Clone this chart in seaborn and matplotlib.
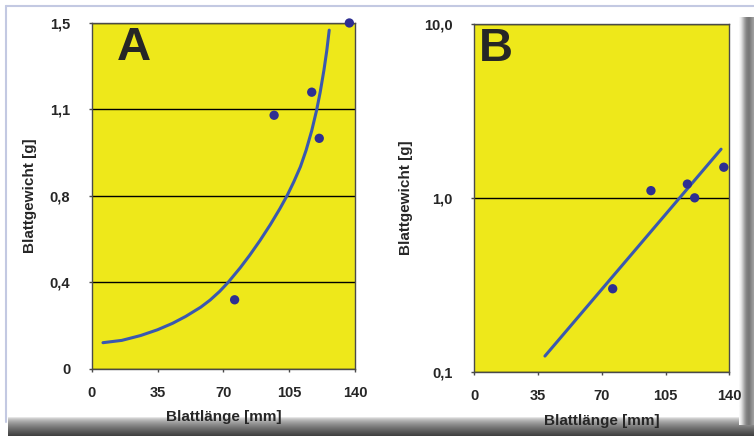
import numpy as np
import pandas as pd
import seaborn as sns
import matplotlib.pyplot as plt

# Messwerte (Blattlänge in mm, Blattgewicht in g)
laenge = [76, 97, 117, 121, 137]
gewicht = [0.30, 1.10, 1.20, 1.00, 1.50]

# Kurve in A
kurve_x = [6, 16, 26, 35, 43, 50, 58, 63, 68, 72.5, 79, 84, 89.5, 95, 100, 104,
           107.5, 111, 114, 117, 119.6, 121.5, 123.5, 125, 126.3]
kurve_y = [0.114, 0.124, 0.145, 0.17, 0.198, 0.228, 0.268, 0.299, 0.336, 0.375,
           0.439, 0.493, 0.557, 0.626, 0.694, 0.753, 0.812, 0.877, 0.948, 1.033, 1.122,
           1.200, 1.296, 1.38, 1.469]

# Gerade in B (log)
gerade_x = [38.8, 135.5]
gerade_y = [0.123, 1.905]

x_ticks = [0, 35, 70, 105, 140]
a_ticks = [0, 0.375, 0.75, 1.125, 1.5]
a_labels = ["0", "0,4", "0,8", "1,1", "1,5"]
b_ticks = [0.1, 1.0, 10.0]
b_labels = ["0,1", "1,0", "10,0"]

punkte = pd.DataFrame({"x": laenge, "y": gewicht})
kurve = pd.DataFrame({"x": kurve_x, "y": kurve_y})
gerade = pd.DataFrame({"x": gerade_x, "y": gerade_y})

sns.set_style("ticks")
plt.rcParams["font.family"] = ["Liberation Sans", "DejaVu Sans"]
plt.rcParams["font.weight"] = "bold"

gelb = "#eee81a"
punkt_farbe = "#2e2f92"
linien_farbe = "#3a58b0"

fig = plt.figure(figsize=(7.54, 4.36), dpi=100)
fig.patch.set_facecolor("white")

# Rahmen und Schatten
bg = fig.add_axes([0, 0, 1, 1], zorder=-5)
bg.set_xlim(0, 754)
bg.set_ylim(436, 0)
bg.axis("off")
grad_v = np.linspace(0, 1, 50)[:, None] ** 0.6
bg.imshow(0.95 - 0.7 * grad_v, cmap="gray", vmin=0, vmax=1, aspect="auto",
          extent=[8, 754, 436, 417], zorder=1)
grad_h = np.array([[0.97, 0.88, 0.75, 0.62, 0.52, 0.47, 0.48, 0.55, 0.62]])
bg.imshow(grad_h, cmap="gray", vmin=0, vmax=1, aspect="auto",
          extent=[739, 754, 425, 18], zorder=1, interpolation="bilinear")
bg.plot([6, 754], [6, 6], color="#c3c9e2", lw=1.5, zorder=2)
bg.plot([6, 6], [6, 422], color="#c3c9e2", lw=1.5, zorder=2)

ax_a = fig.add_axes([0.1216, 0.1537, 0.3492, 0.7936])
ax_b = fig.add_axes([0.629, 0.1475, 0.3382, 0.7975])

for ax in (ax_a, ax_b):
    ax.set_facecolor(gelb)
    for s in ax.spines.values():
        s.set_color("#4a4a4a")
        s.set_linewidth(1.0)
        s.set_visible(True)
    ax.set_xlim(0, 140)
    ax.set_xticks(x_ticks)
    ax.tick_params(axis="x", length=2.5, width=1, color="#4a4a4a", pad=10, labelsize=10.5)
    ax.tick_params(axis="y", length=2.5, width=1, color="#4a4a4a", pad=13, labelsize=10.5)
    ax.grid(axis="y", color="black", lw=1.0)
    ax.set_axisbelow(True)

# Panel A
sns.lineplot(data=kurve, x="x", y="y", ax=ax_a, color=linien_farbe, lw=2.2, zorder=3)
sns.scatterplot(data=punkte, x="x", y="y", ax=ax_a, color=punkt_farbe, s=45,
                edgecolor="none", zorder=4, clip_on=False)
ax_a.set_ylim(0, 1.5)
ax_a.set_yticks(a_ticks)
ax_a.set_yticklabels(a_labels)
ax_a.set_xlabel("Blattlänge [mm]", fontsize=11, fontweight="bold", labelpad=7)
ax_a.set_ylabel("Blattgewicht [g]", fontsize=11, fontweight="bold", labelpad=9)
ax_a.text(0.095, 0.99, "A", transform=ax_a.transAxes, fontsize=34, fontweight="bold",
          ha="left", va="top")

# Panel B
sns.lineplot(data=gerade, x="x", y="y", ax=ax_b, color=linien_farbe, lw=2.2, zorder=3)
sns.scatterplot(data=punkte, x="x", y="y", ax=ax_b, color=punkt_farbe, s=45,
                edgecolor="none", zorder=4, clip_on=False)
ax_b.set_yscale("log")
ax_b.set_ylim(0.1, 10)
ax_b.set_yticks(b_ticks)
ax_b.set_yticklabels(b_labels)
ax_b.yaxis.set_minor_locator(plt.NullLocator())
ax_b.set_xlabel("Blattlänge [mm]", fontsize=11, fontweight="bold", labelpad=8)
ax_b.set_ylabel("Blattgewicht [g]", fontsize=11, fontweight="bold", labelpad=8)
ax_b.text(0.02, 0.99, "B", transform=ax_b.transAxes, fontsize=34, fontweight="bold",
          ha="left", va="top")

for ax in (ax_a, ax_b):
    for lab in ax.get_xticklabels() + ax.get_yticklabels():
        lab.set_fontweight("bold")

fig.savefig("out.png", dpi=100)
